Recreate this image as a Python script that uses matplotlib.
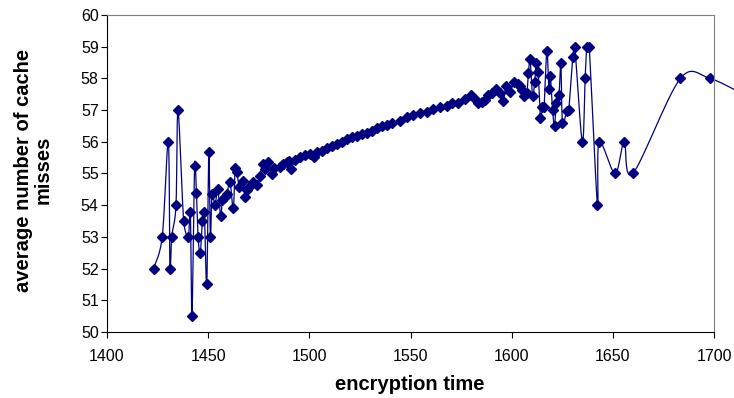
import numpy as np
import matplotlib.pyplot as plt

plt.rcParams['font.family'] = ['Liberation Sans', 'DejaVu Sans']

# encryption time vs. average number of cache misses
enc_time = [1423, 1427.3, 1430.3, 1431.1, 1432, 1434.1, 1435.1, 1437.9, 1440.2, 1441.2,
            1442, 1443.3, 1444.2, 1445, 1446.1, 1447.1, 1448.1, 1449.3, 1450.3, 1451.1,
            1451.9, 1453.4, 1454.7, 1456.2, 1457, 1458.3, 1459.3, 1460.8, 1462.4, 1463.3,
            1464.1, 1465.4, 1467.1, 1468.4, 1469.4, 1470.5, 1472.3, 1474.3, 1475.6, 1477,
            1478.1, 1479.7, 1481.4, 1482.5, 1485.5, 1487.2, 1488.8, 1490, 1490.8, 1492.9,
            1495.4, 1497.9, 1500.3, 1502.3, 1503.7, 1506.1, 1508.6, 1511, 1513.5, 1516,
            1518.5, 1521, 1523.4, 1525.9, 1528.4, 1530.8, 1533.3, 1535.8, 1538.3, 1541,
            1544.8, 1548.1, 1551.4, 1554.7, 1558, 1561.3, 1564.6, 1567.9, 1570.4, 1573.7,
            1577, 1579.8, 1581.9, 1583.6, 1585.2, 1586.9, 1588.5, 1590.2, 1592.3, 1594,
            1595.9, 1597.2, 1599.1, 1601.4, 1602.9, 1604.2, 1605, 1606.1, 1607.5, 1608.3,
            1609.1, 1610.3, 1611.4, 1612.1, 1613.1, 1614.2, 1615.2, 1616, 1617.4, 1618.4,
            1619.1, 1620.2, 1621.2, 1622, 1623.4, 1624.3, 1625.1, 1627.2, 1628.2, 1630.2,
            1631.2, 1634.9, 1636.3, 1637.1, 1638.3, 1642.4, 1643.2, 1651.1, 1655.6, 1659.9,
            1683.4, 1698.1, 1720]
misses = [52.0, 53.0, 56.0, 52.0, 53.0, 54.0, 57.0, 53.5, 53.0, 53.8,
          50.5, 55.25, 54.4, 53.0, 52.5, 53.5, 53.8, 51.5, 55.67, 53.0,
          54.35, 54.0, 54.5, 53.66, 54.16, 54.25, 54.35, 54.73, 53.9, 55.17,
          55.06, 54.56, 54.77, 54.27, 54.48, 54.6, 54.74, 54.64, 54.92, 55.3,
          55.13, 55.37, 54.98, 55.16, 55.21, 55.29, 55.37, 55.4, 55.13, 55.43,
          55.51, 55.58, 55.6, 55.53, 55.69, 55.72, 55.8, 55.87, 55.93, 56.0,
          56.09, 56.14, 56.18, 56.25, 56.29, 56.35, 56.43, 56.5, 56.53, 56.6,
          56.67, 56.77, 56.85, 56.9, 56.95, 57.03, 57.09, 57.13, 57.21, 57.23,
          57.34, 57.48, 57.34, 57.21, 57.26, 57.32, 57.48, 57.53, 57.66, 57.53,
          57.3, 57.76, 57.58, 57.9, 57.82, 57.76, 57.63, 57.44, 57.55, 58.18,
          58.6, 57.44, 57.9, 58.48, 58.21, 56.74, 57.09, 57.09, 58.87, 57.66,
          58.08, 57.0, 56.5, 57.23, 57.48, 58.5, 56.6, 56.98, 57.0, 58.66,
          58.98, 56.0, 58.0, 59.0, 59.0, 54.0, 56.0, 55.0, 56.0, 55.0,
          58.0, 58.0, 57.3]

x_ticks = [1400, 1450, 1500, 1550, 1600, 1650, 1700]
y_ticks = [50, 51, 52, 53, 54, 55, 56, 57, 58, 59, 60]

navy = '#000080'

fig = plt.figure(figsize=(7.34, 3.98), dpi=100)
ax = fig.add_axes([107 / 734, 1 - 332 / 398, 607 / 734, 317 / 398])
ax.set_xlim(1400, 1700)
ax.set_ylim(50, 60)


def smooth(ax, xs, ys, steps=16):
    # excel-like smoothed line: catmull-rom bezier in screen space,
    # control arms capped so short segments don't overshoot
    p = ax.transData.transform(np.column_stack([xs, ys]))
    p = np.vstack([p[0], p, p[-1]])
    out = []
    t = np.linspace(0, 1, steps)[:, None]
    for i in range(1, len(p) - 2):
        p0, p1, p2, p3 = p[i - 1], p[i], p[i + 1], p[i + 2]
        seg_len = np.hypot(*(p2 - p1))
        a1 = (p2 - p0) / 6
        a2 = (p3 - p1) / 6
        for a in (a1, a2):
            n = np.hypot(*a)
            if n > 0.6 * seg_len and n > 0:
                a *= 0.6 * seg_len / n
        c1 = p1 + a1
        c2 = p2 - a2
        seg = ((1 - t) ** 3 * p1 + 3 * (1 - t) ** 2 * t * c1
               + 3 * (1 - t) * t ** 2 * c2 + t ** 3 * p2)
        out.append(seg if i == 1 else seg[1:])
    out = np.vstack(out)
    return ax.transData.inverted().transform(out)


curve = smooth(ax, enc_time, misses)
ax.plot(curve[:, 0], curve[:, 1], color=navy, lw=0.9, clip_on=False)
ax.plot(enc_time, misses, ls='none', marker='D', ms=5, color=navy)

ax.set_xticks(x_ticks)
ax.set_yticks(y_ticks)
ax.tick_params(direction='out', length=4, width=0.8, labelsize=11.5, color='black')
ax.tick_params(axis='x', pad=8)
ax.tick_params(axis='y', pad=2)
for s in ['top', 'right']:
    ax.spines[s].set_color('#808080')
    ax.spines[s].set_linewidth(0.8)
for s in ['left', 'bottom']:
    ax.spines[s].set_linewidth(0.8)

fig.text(410 / 734, 1 - 385 / 398, 'encryption time', ha='center', va='center',
         fontsize=14.5, fontweight='bold')
fig.text(33 / 734, 1 - 170 / 398, 'average number of cache\nmisses', rotation=90,
         ha='center', va='center', multialignment='center',
         fontsize=14.5, fontweight='bold', linespacing=1.05)

fig.savefig('out.png', dpi=100, facecolor='white')
